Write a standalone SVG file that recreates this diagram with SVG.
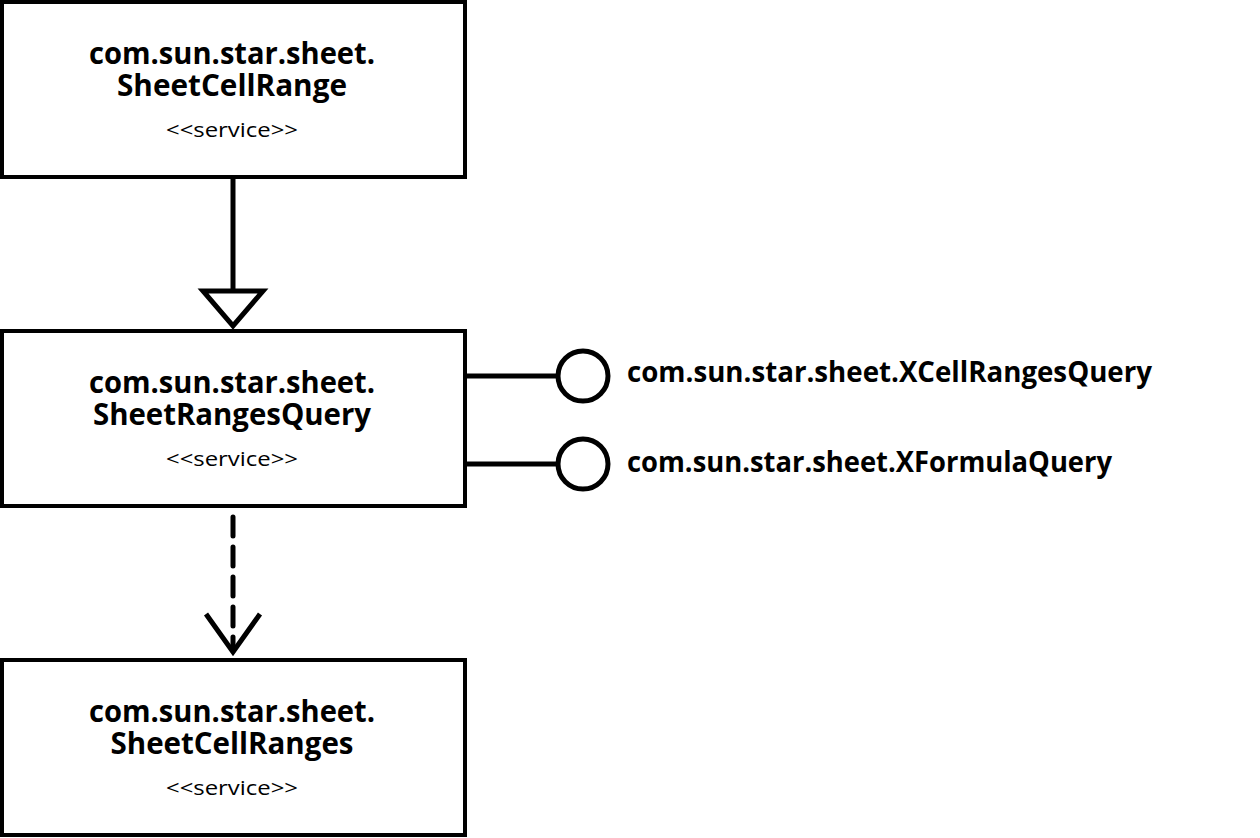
<svg xmlns="http://www.w3.org/2000/svg" width="1260" height="838" viewBox="0 0 1260 838">
<style>
.box{fill:#fff;stroke:#000;stroke-width:4}
.t{font-family:"Open Sans","Noto Sans",sans-serif;font-weight:bold;font-size:30px;text-anchor:middle;fill:#000}
.s{font-family:"Open Sans","Noto Sans",sans-serif;font-size:20px;text-anchor:middle;fill:#000}
.l{font-family:"Open Sans","Noto Sans",sans-serif;font-weight:bold;font-size:29px;fill:#000}
.c{fill:none;stroke:#000;stroke-width:5}
</style>
<rect width="1260" height="838" fill="#fff"/>
<g id="connectors">
<line class="c" x1="233" y1="178" x2="233" y2="291"/>
<polygon class="c" points="203,291 263,291 233,326" stroke-linejoin="miter"/>
<line class="c" x1="233" y1="517" x2="233" y2="650" stroke-dasharray="19,11" stroke-linecap="round"/>
<polyline class="c" points="206,614 233,652 260,614"/>
<line class="c" x1="467" y1="376" x2="558" y2="376"/>
<circle class="c" cx="583" cy="376" r="25"/>
<line class="c" x1="467" y1="464" x2="558" y2="464"/>
<circle class="c" cx="583" cy="464" r="25"/>
</g>
<g id="SheetCellRange">
<rect class="box" x="2" y="2" width="463" height="175"/>
<text class="t" x="232" y="64" textLength="286" lengthAdjust="spacingAndGlyphs">com.sun.star.sheet.</text>
<text class="t" x="232" y="96" textLength="230" lengthAdjust="spacingAndGlyphs">SheetCellRange</text>
<text class="s" x="232" y="137" textLength="132" lengthAdjust="spacingAndGlyphs">&lt;&lt;service&gt;&gt;</text>
</g>
<g id="SheetRangesQuery">
<rect class="box" x="2" y="331" width="463" height="175"/>
<text class="t" x="232" y="393" textLength="286" lengthAdjust="spacingAndGlyphs">com.sun.star.sheet.</text>
<text class="t" x="232" y="425" textLength="278" lengthAdjust="spacingAndGlyphs">SheetRangesQuery</text>
<text class="s" x="232" y="466" textLength="132" lengthAdjust="spacingAndGlyphs">&lt;&lt;service&gt;&gt;</text>
</g>
<g id="SheetCellRanges">
<rect class="box" x="2" y="660" width="463" height="175"/>
<text class="t" x="232" y="722" textLength="286" lengthAdjust="spacingAndGlyphs">com.sun.star.sheet.</text>
<text class="t" x="232" y="754" textLength="243" lengthAdjust="spacingAndGlyphs">SheetCellRanges</text>
<text class="s" x="232" y="795" textLength="132" lengthAdjust="spacingAndGlyphs">&lt;&lt;service&gt;&gt;</text>
</g>
<g id="XCellRangesQuery">
<text class="l" x="627" y="382" textLength="525" lengthAdjust="spacingAndGlyphs">com.sun.star.sheet.XCellRangesQuery</text>
</g>
<g id="XFormulaQuery">
<text class="l" x="627" y="472" textLength="485" lengthAdjust="spacingAndGlyphs">com.sun.star.sheet.XFormulaQuery</text>
</g>
</svg>
